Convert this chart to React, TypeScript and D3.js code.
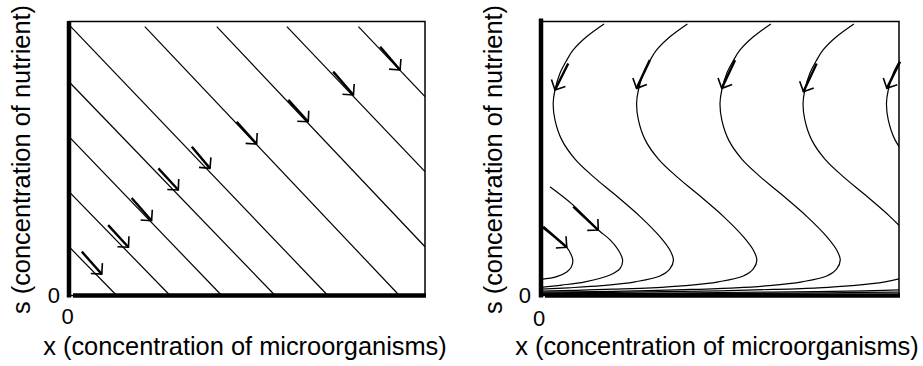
import React from 'react';
import * as d3 from 'd3';

// ---------- data ----------
const xDomain: [number, number] = [0, 10];
const sDomain: [number, number] = [0, 10];
const xTickLabels = ['0'];
const sTickLabels = ['0'];
const xAxisTitle = 'x (concentration of microorganisms)';
const sAxisTitle = 's (concentration of nutrient)';

// Left panel: straight trajectories (x, s) start -> end
const batchTrajectories: number[][][] = [
  [[0, 1.78], [1.34, 0]],
  [[0, 3.79], [2.84, 0]],
  [[0, 5.80], [4.29, 0]],
  [[0, 7.80], [5.79, 0]],
  [[0.05, 9.81], [7.27, 0]],
  [[2.13, 9.81], [9.28, 0]],
  [[4.15, 9.81], [10, 1.78]],
  [[6.12, 9.81], [10, 4.52]],
  [[8.13, 9.81], [10, 7.26]],
];
// arrows: [tail, tip]
const batchArrows: number[][][] = [
  [[0.36, 1.60], [0.92, 0.78]],
  [[1.10, 2.57], [1.67, 1.76]],
  [[1.76, 3.56], [2.32, 2.73]],
  [[2.51, 4.64], [3.07, 3.85]],
  [[3.45, 5.43], [3.96, 4.64]],
  [[4.71, 6.34], [5.27, 5.53]],
  [[6.16, 7.14], [6.72, 6.34]],
  [[7.42, 8.17], [7.99, 7.32]],
  [[8.74, 9.08], [9.30, 8.23]],
];

// Right panel trajectories
const chemoTraj1: number[][] = [
  [0, 2.51], [0.36, 2.15], [0.72, 1.76], [0.84, 1.50], [0.89, 1.28], [0.84, 1.02],
  [0.72, 0.86], [0.44, 0.69], [0, 0.59],
];
const chemoTraj2: number[][] = [
  [0.25, 3.97], [0.90, 3.30], [1.60, 2.39], [1.93, 2.03], [2.16, 1.66], [2.28, 1.30],
  [2.21, 0.99], [1.93, 0.75], [1.23, 0.50], [0.58, 0.38], [0, 0.30],
];
const chemoTraj3: number[][] = [
  [1.76, 9.91], [1.28, 9.45], [0.90, 8.96], [0.72, 8.59], [0.53, 8.11], [0.39, 7.50],
  [0.34, 7.01], [0.39, 6.41], [0.58, 5.68], [0.95, 4.98], [1.46, 4.34], [2.02, 3.73],
  [2.77, 2.88], [3.32, 2.15], [3.60, 1.66], [3.70, 1.30], [3.60, 0.97], [3.32, 0.71],
  [2.63, 0.50], [1.70, 0.36], [0.76, 0.28], [0, 0.23],
];
const chemoTraj4: number[][] = [
  [4.09, 9.91], [3.61, 9.45], [3.23, 8.96], [3.05, 8.59], [2.86, 8.11], [2.72, 7.50],
  [2.67, 7.01], [2.72, 6.41], [2.91, 5.68], [3.28, 4.98], [3.79, 4.34], [4.35, 3.73],
  [5.10, 2.88], [5.65, 2.15], [5.93, 1.66], [6.03, 1.30], [5.93, 0.97], [5.65, 0.71],
  [4.96, 0.50], [4.03, 0.36], [3.09, 0.28], [2.0, 0.23], [1.0, 0.19], [0, 0.16],
];
const chemoTraj5: number[][] = [
  [6.42, 9.91], [5.94, 9.45], [5.56, 8.96], [5.38, 8.59], [5.19, 8.11], [5.05, 7.50],
  [5.00, 7.01], [5.05, 6.41], [5.24, 5.68], [5.61, 4.98], [6.12, 4.34], [6.68, 3.73],
  [7.43, 2.88], [7.98, 2.15], [8.26, 1.66], [8.36, 1.30], [8.26, 0.97], [7.98, 0.71],
  [7.29, 0.50], [6.36, 0.36], [5.42, 0.28], [4.2, 0.22], [3.0, 0.18], [1.5, 0.14], [0, 0.12],
];
const chemoTraj6Upper: number[][] = [
  [8.74, 9.91], [8.26, 9.45], [7.88, 8.96], [7.70, 8.59], [7.51, 8.11], [7.37, 7.50],
  [7.32, 7.01], [7.37, 6.41], [7.56, 5.68], [7.93, 4.98], [8.44, 4.34], [9.00, 3.73],
  [9.75, 2.88], [10.30, 2.15],
];
const chemoTraj6Lower: number[][] = [
  [10.30, 0.71], [9.61, 0.50], [8.68, 0.36], [7.74, 0.28], [6.5, 0.22], [5.0, 0.17],
  [3.0, 0.13], [1.5, 0.11], [0, 0.09],
];
const chemoTraj7Upper: number[][] = [
  [10.59, 9.45], [10.21, 8.96], [10.03, 8.59], [9.84, 8.11], [9.70, 7.50], [9.65, 7.01],
  [9.70, 6.41], [9.89, 5.68], [10.26, 4.98],
];
const chemoTraj7Lower: number[][] = [
  [10.5, 0.22], [9.0, 0.17], [7.0, 0.13], [5.0, 0.11], [2.5, 0.08], [0, 0.06],
];
const chemoTraj8Lower: number[][] = [
  [10.5, 0.13], [8.0, 0.10], [5.0, 0.07], [2.0, 0.05], [0, 0.04],
];
const chemoTrajectories = [
  chemoTraj1, chemoTraj2, chemoTraj3, chemoTraj4, chemoTraj5,
  chemoTraj6Upper, chemoTraj6Lower, chemoTraj7Upper, chemoTraj7Lower, chemoTraj8Lower,
];
const chemoArrows: number[][][] = [
  [[0.06, 2.51], [0.72, 1.76]],
  [[0.90, 3.24], [1.60, 2.39]],
  [[0.76, 8.47], [0.39, 7.50]],
  [[3.04, 8.59], [2.67, 7.56]],
  [[5.42, 8.59], [5.05, 7.56]],
  [[7.70, 8.47], [7.33, 7.44]],
  [[10.03, 8.53], [9.66, 7.56]],
];

// ---------- drawing ----------
const FONT = '"Liberation Sans", Arial, Helvetica, sans-serif';

type PanelProps = {
  id: string;
  left: number;
  right: number;
  top: number;
  bottom: number;
  trajectories: number[][][];
  arrows: number[][][];
  titleCx: number;
  sTitleX: number;
  sTickX: number;
  xTickX: number;
  xTickY: number;
  thickTop: number;
};

function Panel(p: PanelProps) {
  const x = d3.scaleLinear().domain(xDomain).range([p.left, p.right]);
  const y = d3.scaleLinear().domain(sDomain).range([p.bottom, p.top]);
  const line = d3
    .line<number[]>()
    .x((d) => x(d[0]))
    .y((d) => y(d[1]))
    .curve(d3.curveCatmullRom.alpha(0.5));

  const head = (tail: number[], tip: number[]) => {
    const tx = x(tail[0]), ty = y(tail[1]);
    const hx = x(tip[0]), hy = y(tip[1]);
    const ang = Math.atan2(ty - hy, tx - hx);
    const L = 11;
    const a1 = ang + Math.PI / 4, a2 = ang - Math.PI / 4;
    return `M${hx + L * Math.cos(a1)},${hy + L * Math.sin(a1)}L${hx},${hy}L${hx + L * Math.cos(a2)},${hy + L * Math.sin(a2)}`;
  };

  const cy = (p.top + p.bottom) / 2;
  return (
    <g>
      <defs>
        <clipPath id={p.id}>
          <rect x={p.left} y={p.top} width={p.right - p.left} height={p.bottom - p.top} />
        </clipPath>
      </defs>
      <g clipPath={`url(#${p.id})`}>
        {p.trajectories.map((t, i) => (
          <path key={i} d={line(t) || ''} fill="none" stroke="#000" strokeWidth={1.2} />
        ))}
      </g>
      {p.arrows.map((a, i) => (
        <g key={i}>
          <line
            x1={x(a[0][0])}
            y1={y(a[0][1])}
            x2={x(a[1][0])}
            y2={y(a[1][1])}
            stroke="#000"
            strokeWidth={2.4}
          />
          <path d={head(a[0], a[1])} fill="none" stroke="#000" strokeWidth={1.6} />
        </g>
      ))}
      {/* frame */}
      <rect
        x={p.left}
        y={p.top}
        width={p.right - p.left}
        height={p.bottom - p.top}
        fill="none"
        stroke="#000"
        strokeWidth={1.5}
      />
      {/* thick axes */}
      <line x1={p.left} y1={p.thickTop} x2={p.left} y2={p.bottom + 2} stroke="#000" strokeWidth={4.5} />
      <line x1={p.left + 4} y1={p.bottom} x2={p.right + 1} y2={p.bottom} stroke="#000" strokeWidth={4.5} />
      {/* tick labels */}
      <text x={p.sTickX} y={p.bottom + 7} fontSize={22} fontFamily={FONT} textAnchor="end">
        {sTickLabels[0]}
      </text>
      <text x={p.xTickX} y={p.xTickY} fontSize={22} fontFamily={FONT} textAnchor="middle">
        {xTickLabels[0]}
      </text>
      {/* axis titles */}
      <text x={p.titleCx} y={355} fontSize={25.4} fontFamily={FONT} textAnchor="middle">
        {xAxisTitle}
      </text>
      <text
        transform={`translate(${p.sTitleX},${cy + 1}) rotate(-90)`}
        fontSize={25.4}
        fontFamily={FONT}
        textAnchor="middle"
      >
        {sAxisTitle}
      </text>
    </g>
  );
}

export default function App() {
  return (
    <svg
      width={923}
      height={366}
      viewBox="0 0 923 366"
      style={{ position: 'absolute', left: 0, top: 0, background: '#fff' }}
    >
      <rect width={923} height={366} fill="#fff" />
      <Panel
        id="clipLeft"
        left={69}
        right={425}
        top={21.5}
        bottom={295.5}
        trajectories={batchTrajectories}
        arrows={batchArrows}
        titleCx={245}
        sTitleX={30}
        sTickX={60}
        xTickX={67.5}
        xTickY={324}
        thickTop={21}
      />
      <Panel
        id="clipRight"
        left={541}
        right={899}
        top={21.5}
        bottom={295.5}
        trajectories={chemoTrajectories}
        arrows={chemoArrows}
        titleCx={717}
        sTitleX={502}
        sTickX={531}
        xTickX={539}
        xTickY={326}
        thickTop={18.5}
      />
    </svg>
  );
}
